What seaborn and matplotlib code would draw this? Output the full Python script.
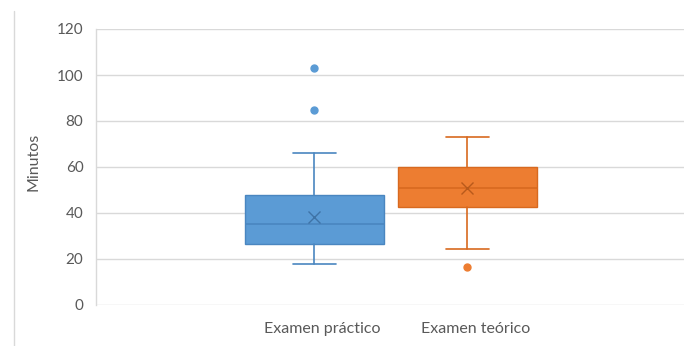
import matplotlib
matplotlib.use("Agg")
import matplotlib.pyplot as plt
from matplotlib.lines import Line2D
import seaborn as sns

# Summary statistics of exam durations (minutes)
categories = ["Examen práctico", "Examen teórico"]
q1 = [26.6, 42.7]
median = [35.4, 51.0]
q3 = [48.0, 60.0]
whisker_low = [18.0, 24.2]
whisker_high = [66.2, 73.2]
mean = [38.4, 50.7]
outliers = [[85.0, 103.2], [16.7]]
y_ticks = [0, 20, 40, 60, 80, 100, 120]

fills = ["#5B9BD5", "#ED7D31"]
edges = ["#4A86C0", "#D8691F"]
marks = ["#3F73A6", "#B85A1B"]

sns.set_theme(style="white")
plt.rcParams["font.family"] = ["Lato", "DejaVu Sans"]

fig = plt.figure(figsize=(6.84, 3.46), dpi=100)
ax = fig.add_axes([96 / 684, 1 - 305 / 346, 588 / 684, 276 / 346])

positions = [1, 2]
for i, cat in enumerate(categories):
    stats = [{
        "label": cat,
        "q1": q1[i], "med": median[i], "q3": q3[i],
        "whislo": whisker_low[i], "whishi": whisker_high[i],
        "mean": mean[i], "fliers": outliers[i],
    }]
    ax.bxp(
        stats, positions=[positions[i]], widths=0.908, patch_artist=True,
        showmeans=True, manage_ticks=False,
        boxprops=dict(facecolor=fills[i], edgecolor=edges[i], linewidth=1.0),
        medianprops=dict(color=edges[i], linewidth=1.2),
        whiskerprops=dict(color=edges[i], linewidth=1.2),
        capprops=dict(color=edges[i], linewidth=1.2),
        capwidths=0.28,
        meanprops=dict(marker="x", markeredgecolor=marks[i], markersize=9,
                       markeredgewidth=1.0),
        flierprops=dict(marker="o", markerfacecolor=fills[i],
                        markeredgecolor=fills[i], markersize=5),
    )

ax.set_xlim(-0.428, 3.415)
ax.set_ylim(0, 120)
ax.set_yticks(y_ticks)
ax.set_yticklabels([str(t) for t in y_ticks])
ax.set_xticks([1.05, 2.05])
ax.set_xticklabels(categories)
ax.tick_params(axis="both", length=0, labelcolor="#595959")
ax.tick_params(axis="y", pad=9, labelsize=11)
ax.tick_params(axis="x", pad=12, labelsize=11.5)
ax.grid(axis="y", color="#D9D9D9", linewidth=1.0)
ax.set_axisbelow(True)
for side in ["top", "right", "bottom"]:
    ax.spines[side].set_visible(False)
ax.spines["left"].set_color("#D9D9D9")
ax.spines["left"].set_linewidth(1.0)
ax.set_ylabel("Minutos", fontsize=11.5, color="#595959")
ax.yaxis.set_label_coords(-0.095, 0.52)

# outer frame edge on the left
fig.add_artist(Line2D([13.5 / 684, 13.5 / 684], [0, 1 - 11 / 346],
                      color="#D9D9D9", linewidth=1.0))

fig.savefig("out.png", dpi=100, facecolor="white")
